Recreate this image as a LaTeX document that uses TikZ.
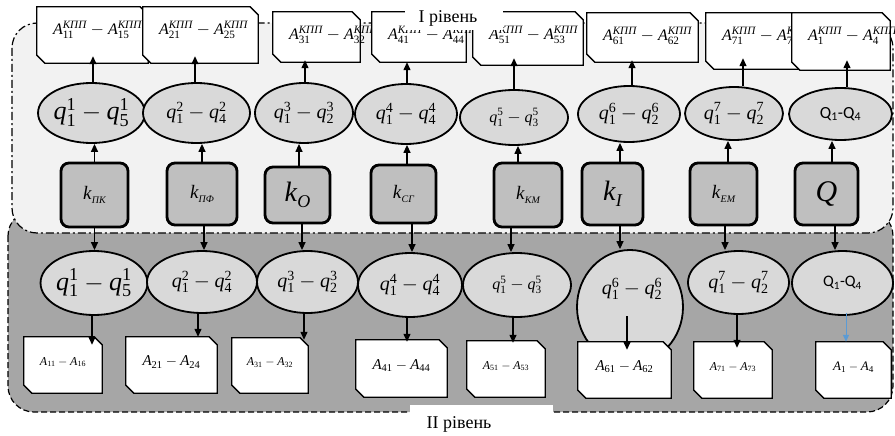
\documentclass[tikz,border=0pt]{standalone}
\usepackage{fontspec}
\setmainfont{Liberation Serif}
\newfontfamily\calib{Carlito}
\usepackage{amsmath}
\usetikzlibrary{shapes.geometric,arrows.meta}

\definecolor{upperfill}{HTML}{F2F2F2}
\definecolor{lowerfill}{HTML}{A6A6A6}
\definecolor{ellfill}{HTML}{D9D9D9}
\definecolor{boxfill}{HTML}{BFBFBF}
\definecolor{linkblue}{HTML}{5B9BD5}

% italic letters and upright indices in the serif text font
\newcommand{\iv}[1]{\text{\itshape #1}}
\newcommand{\tx}[1]{\text{#1}}
% q^g_a - q^g_b
\newcommand{\qr}[3]{$\iv{q}^{\tx{#1}}_{\tx{#2}}-\iv{q}^{\tx{#1}}_{\tx{#3}}$}
% A^KPP_a - A^KPP_b
\newcommand{\akpp}[2]{$\iv{A}^{\iv{КПП}}_{\tx{#1}}-\iv{A}^{\iv{КПП}}_{\tx{#2}}$}
% A_a - A_b
\newcommand{\arng}[2]{$\iv{A}_{\tx{#1}}-\iv{A}_{\tx{#2}}$}
% coefficient k with a small Cyrillic index
\newcommand{\kidx}[1]{\textit{k}\raisebox{-4pt}{\fontsize{10}{10}\selectfont\itshape #1}}
\newcommand{\qsum}{{\calib Q\textsubscript{1}-Q\textsubscript{4}}}

% document-shaped frame: corners cut at top right and bottom left
\newcommand{\docframe}[5]{%
  \node[frame, minimum width=#4pt, minimum height=#5pt] (#1) at (#2,#3) {};
  \path[docline] (#1.north west) -- ([xshift=-8pt]#1.north east)
    -- ([yshift=-8pt]#1.north east) -- (#1.south east)
    -- ([xshift=8pt]#1.south west) -- ([yshift=8pt]#1.south west) -- cycle;}
\newcommand{\topdoc}[6]{%
  \docframe{#1}{#2}{#3}{#4}{#5}
  \node[anchor=west, inner sep=0pt, font=\fontsize{16}{16}\selectfont]
    (#1t) at ([xshift=16pt,yshift=-23pt]#1.north west) {#6};}
\newcommand{\lowdoc}[7]{%
  \docframe{#1}{#2}{#3}{#4}{#5}
  \node[inner sep=0pt, font=\fontsize{#6}{#6}\selectfont]
    (#1t) at ([yshift=3pt]#1.center) {#7};}

\begin{document}
\begin{tikzpicture}[x=1pt,y=-1pt,
  ell/.style={ellipse, draw, line width=1.8pt, fill=ellfill, inner sep=0pt},
  kbox/.style={rectangle, rounded corners=8pt, draw, line width=2.8pt,
    fill=boxfill, inner sep=0pt},
  frame/.style={rectangle, inner sep=0pt},
  docline/.style={draw=black, fill=white, line width=1.3pt},
  arr/.style={-{Triangle[length=8pt,width=7pt]}, line width=1.3pt},
  lvl/.style={font=\fontsize{18}{20}\selectfont, inner sep=0pt}]
\useasboundingbox (0,0) rectangle (895,436);

% level II and level I areas
\draw[fill=lowerfill, rounded corners=26pt, line width=1.2pt,
  dash pattern=on 6pt off 3pt] (8,210) rectangle (893,412);
\draw[fill=upperfill, rounded corners=25pt, line width=1.2pt,
  dash pattern=on 8pt off 3pt on 2pt off 3pt] (12,23) rectangle (893,233);

% level II: parameter groups
\node[ell, minimum width=102pt, minimum height=64pt, font=\fontsize{26}{26}\selectfont] (l1) at (94,283) {\qr{1}{1}{5}};
\node[ell, minimum width=110pt, minimum height=62pt, font=\fontsize{20}{20}\selectfont] (l2) at (202,282) {\qr{2}{1}{4}};
\node[ell, minimum width=101pt, minimum height=62pt, font=\fontsize{20}{20}\selectfont] (l3) at (307.5,282) {\qr{3}{1}{2}};
\node[ell, minimum width=104pt, minimum height=64pt, font=\fontsize{20}{20}\selectfont] (l4) at (410,285) {\qr{4}{1}{4}};
\node[ell, minimum width=108pt, minimum height=64pt, font=\fontsize{16}{16}\selectfont] (l5) at (517,285) {\qr{5}{1}{3}};
\node[ell, minimum width=106pt, minimum height=114pt] (l6) at (630,307) {};
\node[inner sep=0pt, font=\fontsize{20}{20}\selectfont] (l6t) at (632,289) {\qr{6}{1}{2}};
\node[ell, minimum width=101pt, minimum height=63pt, font=\fontsize{20}{20}\selectfont] (l7) at (738.5,282.5) {\qr{7}{1}{2}};
\node[ell, minimum width=101pt, minimum height=64pt, font=\fontsize{16}{16}\selectfont] (l8) at (842.5,283) {\qsum};

% level II: attribute sets
\lowdoc{d1}{63}{365}{78}{56}{12}{\arng{11}{16}}
\lowdoc{d2}{171.5}{365}{91}{56}{15}{\arng{21}{24}}
\lowdoc{d3}{270}{365.5}{76}{55}{12}{\arng{31}{32}}
\lowdoc{d4}{401.5}{368.5}{91}{57}{15}{\arng{41}{44}}
\lowdoc{d5}{506}{369}{78}{56}{12}{\arng{51}{53}}
\lowdoc{d6}{624.5}{370}{93}{56}{15}{\arng{61}{62}}
\lowdoc{d7}{733}{370}{78}{56}{12}{\arng{71}{73}}
\lowdoc{d8}{853.5}{370}{75}{56}{13}{\arng{1}{4}}

% level I: parameter groups
\node[ell, minimum width=103pt, minimum height=60pt, font=\fontsize{26}{26}\selectfont] (u1) at (91.5,113) {\qr{1}{1}{5}};
\node[ell, minimum width=107pt, minimum height=60pt, font=\fontsize{20}{20}\selectfont] (u2) at (196.5,113) {\qr{2}{1}{4}};
\node[ell, minimum width=98pt, minimum height=60pt, font=\fontsize{20}{20}\selectfont] (u3) at (304,113) {\qr{3}{1}{2}};
\node[ell, minimum width=102pt, minimum height=60pt, font=\fontsize{20}{20}\selectfont] (u4) at (406,114) {\qr{4}{1}{4}};
\node[ell, minimum width=108pt, minimum height=55pt, font=\fontsize{16}{16}\selectfont] (u5) at (514,117.5) {\qr{5}{1}{3}};
\node[ell, minimum width=102pt, minimum height=56pt, font=\fontsize{20}{20}\selectfont] (u6) at (629,114) {\qr{6}{1}{2}};
\node[ell, minimum width=98pt, minimum height=53pt, font=\fontsize{20}{20}\selectfont] (u7) at (734,113.5) {\qr{7}{1}{2}};
\node[ell, minimum width=103pt, minimum height=52pt, font=\fontsize{17}{17}\selectfont] (u8) at (840.5,114) {\qsum};

% level I: attribute sets
\topdoc{t1}{92.5}{35}{111}{56}{\akpp{11}{15}}
\topdoc{t2}{200.5}{35}{115}{56}{\akpp{21}{25}}
\topdoc{t3}{316.5}{37}{87}{50}{\akpp{31}{32}}
\topdoc{t4}{419}{37}{94}{50}{\akpp{41}{44}}
\topdoc{t5}{528}{38.5}{110}{53}{\akpp{51}{53}}
\topdoc{t6}{642.5}{37.5}{111}{49}{\akpp{61}{62}}
\topdoc{t7}{763}{41}{114}{56}{\akpp{71}{73}}
\topdoc{t8}{841}{41.5}{98}{57}{\akpp{1}{4}}

% coefficients
\node[kbox, minimum width=67pt, minimum height=64pt, font=\fontsize{19}{19}\selectfont] (b1) at (94.5,195) {\kidx{ПК}};
\node[kbox, minimum width=70pt, minimum height=62pt, font=\fontsize{19}{19}\selectfont] (b2) at (202,194) {\kidx{ПФ}};
\node[kbox, minimum width=65pt, minimum height=56pt, font=\fontsize{28}{28}\selectfont] (b3) at (297.5,195) {\textit{k}\raisebox{-6pt}{\fontsize{18}{18}\selectfont\itshape O}};
\node[kbox, minimum width=65pt, minimum height=58pt, font=\fontsize{19}{19}\selectfont] (b4) at (403.5,194) {\kidx{СГ}};
\node[kbox, minimum width=68pt, minimum height=64pt, font=\fontsize{19}{19}\selectfont] (b5) at (528,195) {\kidx{КМ}};
\node[kbox, minimum width=61pt, minimum height=62pt, font=\fontsize{28}{28}\selectfont] (b6) at (612.5,194) {\textit{k}\raisebox{-6pt}{\fontsize{18}{18}\selectfont\itshape I}};
\node[kbox, minimum width=67pt, minimum height=62pt, font=\fontsize{19}{19}\selectfont] (b7) at (723.5,194) {\kidx{ЕМ}};
\node[kbox, minimum width=63pt, minimum height=62pt, font=\fontsize{30}{30}\selectfont] (b8) at (826.5,194) {\textit{Q}};

% coefficient -> level I group
\draw[arr] (b1.north) -- (b1.north |- u1.south);
\draw[arr] (b2.north) -- (b2.north |- u2.south);
\draw[arr] ([xshift=1.5pt]b3.north) -- ([xshift=1.5pt]b3.north |- u3.south);
\draw[arr] ([xshift=3.5pt]b4.north) -- ([xshift=3.5pt]b4.north |- u4.south);
\draw[arr] ([xshift=-10pt]b5.north) -- ([xshift=-10pt]b5.north |- u5.south);
\draw[arr] ([xshift=7.5pt]b6.north) -- ([xshift=7.5pt]b6.north |- u6.south);
\draw[arr] ([xshift=4.5pt]b7.north) -- ([xshift=4.5pt]b7.north |- u7.south);
\draw[arr] ([xshift=5.5pt]b8.north) -- ([xshift=5.5pt]b8.north |- u8.south);

% level I group -> attribute set
\draw[arr, shorten >=-7pt] ([xshift=1.5pt]u1.north) -- ([xshift=1.5pt]u1.north |- t1.south);
\draw[arr, shorten >=-7pt] ([xshift=-1.5pt]u2.north) -- ([xshift=-1.5pt]u2.north |- t2.south);
\draw[arr, shorten >=-2pt] ([xshift=1pt]u3.north) -- ([xshift=1pt]u3.north |- t3.south);
\draw[arr] ([xshift=1pt]u4.north) -- ([xshift=1pt]u4.north |- t4.south);
\draw[arr, shorten >=-7pt] (u5.north) -- (u5.north |- t5.south);
\draw[arr, shorten >=-2pt] ([xshift=3pt]u6.north) -- ([xshift=3pt]u6.north |- t6.south);
\draw[arr, shorten >=-11pt] ([xshift=9pt]u7.north) -- ([xshift=9pt]u7.north |- t7.south);
\draw[arr, shorten >=-10pt] ([xshift=6.5pt]u8.north) -- ([xshift=6.5pt]u8.north |- t8.south);

% coefficient -> level II group
\draw[arr] (b1.south) -- (b1.south |- l1.north);
\draw[arr] ([xshift=2pt]b2.south) -- ([xshift=2pt]b2.south |- l2.north);
\draw[arr] ([xshift=4.5pt]b3.south) -- ([xshift=4.5pt]b3.south |- l3.north);
\draw[arr] ([xshift=8.5pt]b4.south) -- ([xshift=8.5pt]b4.south |- l4.north);
\draw[arr] ([xshift=-17pt]b5.south) -- ([xshift=-17pt]b5.south |- l5.north);
\draw[arr] ([xshift=7.5pt]b6.south) -- ([xshift=7.5pt]b6.south |- l6.north);
\draw[arr] ([xshift=1.5pt]b7.south) -- ([xshift=1.5pt]b7.south |- l7.north);
\draw[arr] ([xshift=8.5pt]b8.south) -- ([xshift=8.5pt]b8.south |- l8.north);

% level II group -> attribute set
\coordinate (s6) at (627,316);
\draw[arr, shorten >=-8pt] ([xshift=-2pt]l1.south) -- ([xshift=-2pt]l1.south |- d1.north);
\draw[arr] ([xshift=-4pt]l2.south) -- ([xshift=-4pt]l2.south |- d2.north);
\draw[arr, shorten >=-2pt] ([xshift=-3.5pt]l3.south) -- ([xshift=-3.5pt]l3.south |- d3.north);
\draw[arr, shorten >=-2pt] ([xshift=-3pt]l4.south) -- ([xshift=-3pt]l4.south |- d4.north);
\draw[arr, shorten >=-2pt] ([xshift=-4pt]l5.south) -- ([xshift=-4pt]l5.south |- d5.north);
\draw[arr, shorten >=-8pt] (s6) -- (s6 |- d6.north);
\draw[arr, shorten >=-6pt] ([xshift=-1.5pt]l7.south) -- ([xshift=-1.5pt]l7.south |- d7.north);
\draw[-{Triangle[length=7pt,width=6pt]}, line width=1pt, draw=linkblue, fill=linkblue]
  ([xshift=3.5pt,yshift=3pt]l8.south) -- ([xshift=3.5pt]l8.south |- d8.north);

% level captions
\fill[white] (405,0) rectangle (503,30);
\node[lvl, anchor=base] (lv1) at (448,23) {I рівень};
\fill[white] (410,405) rectangle (553,436);
\node[lvl, anchor=base] (lv2) at (459,428) {II рівень};
\end{tikzpicture}
\end{document}
